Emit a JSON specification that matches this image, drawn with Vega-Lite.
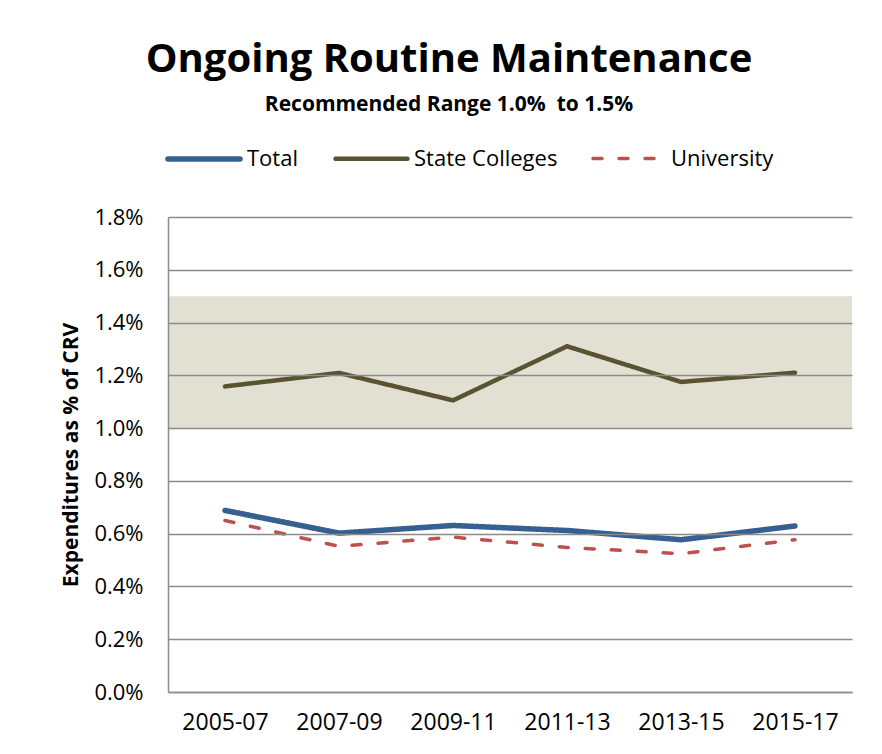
{
  "$schema": "https://vega.github.io/schema/vega-lite/v6.json",
  "width": 684,
  "height": 475,
  "autosize": "none",
  "padding": {"left": 168, "top": 217, "right": 30, "bottom": 62},
  "background": "white",
  "config": {"font": "Open Sans", "view": {"stroke": null}},
  "title": {
    "text": "Ongoing Routine Maintenance",
    "subtitle": "Recommended Range 1.0%\u00a0 to 1.5%",
    "font": "Open Sans",
    "fontSize": 40,
    "fontWeight": "bold",
    "color": "black",
    "subtitleFont": "Open Sans",
    "subtitleFontSize": 21,
    "subtitleFontWeight": "bold",
    "subtitleColor": "black",
    "subtitlePadding": 14,
    "anchor": "middle",
    "frame": "group",
    "dx": -61,
    "offset": 5
  },
  "datasets": {
    "band": [{"lo": 1.0, "hi": 1.5}],
    "main": [
      {"period": "2005-07", "series": "Total", "value": 0.688},
      {"period": "2007-09", "series": "Total", "value": 0.602},
      {"period": "2009-11", "series": "Total", "value": 0.631},
      {"period": "2011-13", "series": "Total", "value": 0.612},
      {"period": "2013-15", "series": "Total", "value": 0.577},
      {"period": "2015-17", "series": "Total", "value": 0.629},
      {"period": "2005-07", "series": "State Colleges", "value": 1.158},
      {"period": "2007-09", "series": "State Colleges", "value": 1.209},
      {"period": "2009-11", "series": "State Colleges", "value": 1.105},
      {"period": "2011-13", "series": "State Colleges", "value": 1.31},
      {"period": "2013-15", "series": "State Colleges", "value": 1.175},
      {"period": "2015-17", "series": "State Colleges", "value": 1.21},
      {"period": "2005-07", "series": "University", "value": 0.65},
      {"period": "2007-09", "series": "University", "value": 0.552},
      {"period": "2009-11", "series": "University", "value": 0.587},
      {"period": "2011-13", "series": "University", "value": 0.548},
      {"period": "2013-15", "series": "University", "value": 0.524},
      {"period": "2015-17", "series": "University", "value": 0.577}
    ]
  },
  "layer": [
    {
      "data": {"name": "band"},
      "mark": {"type": "rect", "color": "#e2e0d3"},
      "encoding": {
        "y": {
          "field": "lo",
          "type": "quantitative",
          "scale": {"domain": [0, 1.8]},
          "axis": {
            "title": "Expenditures as % of CRV",
            "titleFont": "Open Sans",
            "titleFontSize": 21,
            "titleFontWeight": "bold",
            "titleColor": "black",
            "titlePadding": 12,
            "labelFont": "Open Sans",
            "labelFontSize": 22,
            "labelColor": "black",
            "labelPadding": 25,
            "ticks": false,
            "domainColor": "#8c8c8c",
            "domainWidth": 1.5,
            "gridColor": "#8c8c8c",
            "gridWidth": 1.5,
            "values": [0, 0.2, 0.4, 0.6, 0.8, 1.0, 1.2, 1.4, 1.6, 1.8],
            "labelExpr": "format(datum.value, '.1f') + '%'",
            "zindex": 1
          }
        },
        "y2": {"field": "hi"}
      }
    },
    {
      "data": {"name": "main"},
      "mark": {"type": "line", "strokeCap": "round", "strokeJoin": "round"},
      "encoding": {
        "x": {
          "field": "period",
          "type": "ordinal",
          "scale": {"type": "point", "padding": 0.5},
          "axis": {
            "title": null,
            "labelAngle": 0,
            "labelFont": "Open Sans",
            "labelFontSize": 23,
            "labelColor": "black",
            "labelPadding": 19,
            "ticks": false,
            "domainColor": "#8c8c8c",
            "domainWidth": 1.5,
            "grid": false
          }
        },
        "y": {"field": "value", "type": "quantitative", "title": "Expenditures as % of CRV"},
        "color": {
          "field": "series",
          "type": "nominal",
          "scale": {"domain": ["Total", "State Colleges", "University"], "range": ["#376092", "#5a5332", "#c0504d"]},
          "legend": {
            "orient": "none",
            "direction": "horizontal",
            "legendX": -3,
            "legendY": -97,
            "title": null,
            "symbolType": "stroke",
            "symbolSize": 5184,
            "labelFont": "Open Sans",
            "labelFontSize": 22,
            "labelColor": "black",
            "labelOffset": 4,
            "columnPadding": 28,
            "padding": 0,
            "encode": {"symbols": {"update": {"strokeCap": {"value": "round"}}}}
          }
        },
        "strokeDash": {
          "field": "series",
          "type": "nominal",
          "scale": {"domain": ["Total", "State Colleges", "University"], "range": [[1, 0], [1, 0], [9, 17]]}
        },
        "strokeWidth": {
          "field": "series",
          "type": "nominal",
          "scale": {"domain": ["Total", "State Colleges", "University"], "range": [5.5, 3.5, 4]}
        }
      }
    }
  ]
}
